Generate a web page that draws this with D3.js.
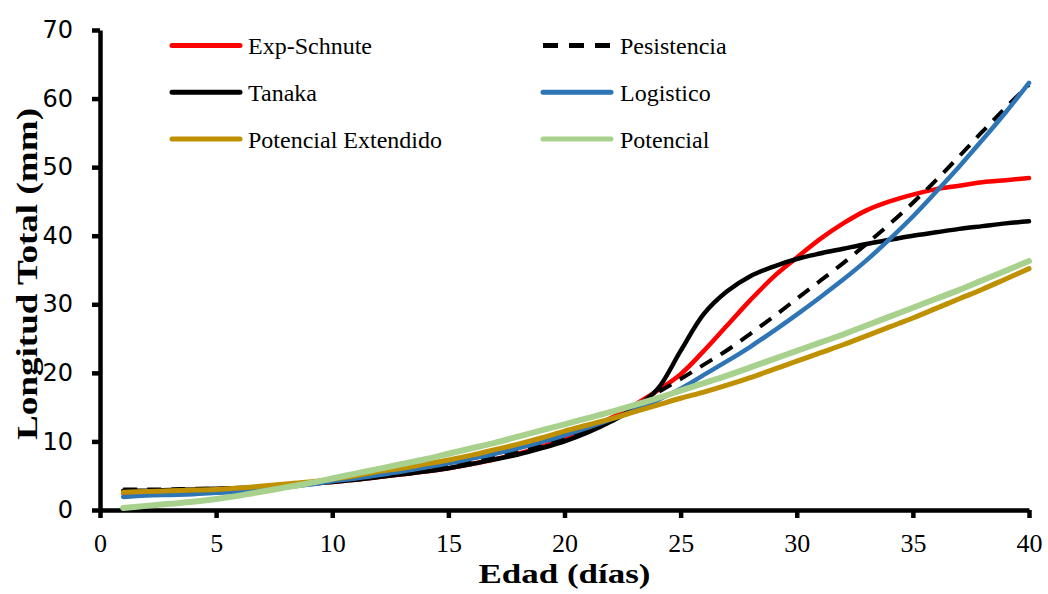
<!DOCTYPE html>
<html>
<head>
<meta charset="utf-8">
<script src="https://cdn.jsdelivr.net/npm/d3@7"></script>
<style>
  html, body { margin: 0; padding: 0; background: #fff; }
  svg { display: block; }
</style>
</head>
<body>
<svg id="chart" width="1048" height="594"></svg>
<script>
// Edad (días)
const days = [1, 2, 3, 4, 5, 6, 7, 8, 9, 10, 11, 12, 13, 14, 15, 16, 17, 18, 19, 20,
  21, 22, 23, 24, 25, 26, 27, 28, 29, 30, 31, 32, 33, 34, 35, 36, 37, 38, 39, 40];

// Longitud Total (mm), one value per day
const expSchnute = [2.5, 2.6, 2.7, 2.8, 3.0, 3.1, 3.3, 3.5, 3.8, 4.1, 4.4, 4.8, 5.2, 5.6, 6.1, 6.7, 7.4, 8.2, 9.2, 10.5,
  11.8, 13.4, 15.3, 17.4, 19.8, 23.2, 26.9, 30.6, 34.0, 36.8, 39.5, 41.8, 43.7, 45.0, 46.0, 46.8, 47.3, 47.8, 48.1, 48.4];
const pesistencia = [3.0, 3.0, 3.0, 3.1, 3.1, 3.2, 3.4, 3.6, 3.9, 4.2, 4.5, 4.9, 5.3, 5.8, 6.4, 7.0, 7.7, 8.5, 9.4, 10.5,
  11.7, 13.1, 14.8, 17.1, 19.1, 21.2, 23.3, 25.7, 28.2, 30.8, 33.4, 36.0, 38.8, 41.7, 44.8, 48.1, 51.6, 55.2, 58.7, 62.0];
const tanaka = [2.8, 2.8, 2.9, 3.0, 3.1, 3.2, 3.4, 3.6, 3.8, 4.1, 4.4, 4.8, 5.2, 5.6, 6.1, 6.7, 7.4, 8.1, 9.0, 10.0,
  11.3, 12.9, 14.8, 17.6, 23.2, 28.6, 31.9, 34.1, 35.5, 36.6, 37.4, 38.1, 38.8, 39.4, 40.0, 40.5, 41.0, 41.4, 41.8, 42.1];
const logistico = [1.9, 2.1, 2.2, 2.3, 2.5, 2.7, 3.0, 3.3, 3.7, 4.2, 4.6, 5.1, 5.6, 6.2, 6.8, 7.5, 8.2, 9.0, 9.9, 10.9,
  12.0, 13.2, 14.5, 16.0, 17.7, 19.7, 21.7, 23.8, 26.1, 28.5, 31.0, 33.6, 36.4, 39.5, 42.8, 46.4, 50.1, 54.0, 58.0, 62.3];
const potExtendido = [2.6, 2.7, 2.8, 2.9, 3.0, 3.2, 3.5, 3.8, 4.1, 4.5, 5.0, 5.6, 6.1, 6.7, 7.3, 8.0, 8.8, 9.6, 10.5, 11.5,
  12.4, 13.3, 14.3, 15.3, 16.3, 17.2, 18.2, 19.3, 20.5, 21.7, 22.9, 24.1, 25.4, 26.7, 28.0, 29.4, 30.8, 32.2, 33.7, 35.2];
const potencial = [0.3, 0.6, 0.9, 1.2, 1.6, 2.1, 2.7, 3.3, 3.9, 4.6, 5.3, 6.0, 6.7, 7.4, 8.2, 9.0, 9.8, 10.7, 11.6, 12.5,
  13.4, 14.3, 15.3, 16.3, 17.4, 18.5, 19.6, 20.8, 22.0, 23.2, 24.4, 25.6, 26.9, 28.2, 29.5, 30.8, 32.1, 33.5, 34.9, 36.3];

const xTicks = [0, 5, 10, 15, 20, 25, 30, 35, 40];
const yTicks = [0, 10, 20, 30, 40, 50, 60, 70];

// series in legend order (later ones draw on top)
const series = [
  { name: "Exp-Schnute", values: expSchnute, color: "#FF0000", width: 4.5, dash: null },
  { name: "Pesistencia", values: pesistencia, color: "#000000", width: 4, dash: "14,10" },
  { name: "Tanaka", values: tanaka, color: "#000000", width: 4.5, dash: null },
  { name: "Logistico", values: logistico, color: "#2E75B6", width: 4.5, dash: null },
  { name: "Potencial Extendido", values: potExtendido, color: "#BF9000", width: 5, dash: null },
  { name: "Potencial", values: potencial, color: "#A9D18E", width: 6, dash: null },
];

const svg = d3.select("#chart");

// scales
const x = d3.scaleLinear().domain([0, 40]).range([100, 1029]);
const y = d3.scaleLinear().domain([0, 70]).range([510, 30]);

// axes
const gY = svg.append("g")
  .attr("transform", "translate(" + x(0) + ",0)")
  .call(d3.axisLeft(y).tickValues(yTicks).tickSize(8).tickSizeOuter(0).tickPadding(19));

const gX = svg.append("g")
  .attr("transform", "translate(0," + y(0) + ")")
  .call(d3.axisBottom(x).tickValues(xTicks).tickSize(8).tickSizeOuter(0).tickPadding(16));

[gX, gY].forEach((g) => {
  g.select(".domain").attr("stroke", "#000").attr("stroke-width", 4.5);
  g.selectAll(".tick line").attr("stroke", "#000").attr("stroke-width", 4.5);
});

gY.selectAll(".tick text")
  .attr("fill", "#000")
  .style("font-family", "'DejaVu Sans', sans-serif")
  .style("font-size", "24px");

gX.selectAll(".tick text")
  .attr("fill", "#000")
  .style("font-family", "'Liberation Serif', serif")
  .style("font-size", "26px");

// axis titles
svg.append("text")
  .attr("x", 564.5)
  .attr("y", 583)
  .attr("text-anchor", "middle")
  .attr("textLength", 172)
  .attr("lengthAdjust", "spacingAndGlyphs")
  .style("font-family", "'Liberation Serif', serif")
  .style("font-weight", "bold")
  .style("font-size", "27px")
  .text("Edad (días)");

svg.append("text")
  .attr("transform", "translate(37,274) rotate(-90)")
  .attr("text-anchor", "middle")
  .attr("textLength", 332)
  .attr("lengthAdjust", "spacingAndGlyphs")
  .style("font-family", "'Liberation Serif', serif")
  .style("font-weight", "bold")
  .style("font-size", "30px")
  .text("Longitud Total (mm)");

// lines
const line = d3.line()
  .x((d, i) => x(days[i]))
  .y((d) => y(d))
  .curve(d3.curveCatmullRom.alpha(0.5));

svg.append("g")
  .selectAll("path")
  .data(series)
  .join("path")
  .attr("d", (d) => line(d.values))
  .attr("fill", "none")
  .attr("stroke", (d) => d.color)
  .attr("stroke-width", (d) => d.width)
  .attr("stroke-dasharray", (d) => d.dash)
  .attr("stroke-linejoin", "round")
  .attr("stroke-linecap", (d) => (d.dash ? "butt" : "round"));

// legend, two columns of three rows
const legendCols = [172, 543];
const legendRows = [45.5, 92.3, 139];

const gLegend = svg.append("g");
const item = gLegend.selectAll("g")
  .data(series)
  .join("g")
  .attr("transform", (d, i) => "translate(" + legendCols[i % 2] + "," + legendRows[Math.floor(i / 2)] + ")");

item.append("line")
  .attr("x1", 0)
  .attr("x2", (d) => (d.dash ? 67 : 68))
  .attr("y1", 0)
  .attr("y2", 0)
  .attr("stroke", (d) => d.color)
  .attr("stroke-width", 5)
  .attr("stroke-dasharray", (d) => (d.dash ? "15,11" : null))
  .attr("stroke-linecap", (d) => (d.dash ? "butt" : "round"));

item.append("text")
  .attr("x", (d, i) => (i % 2 ? 77 : 76))
  .attr("y", 8.5)
  .style("font-family", "'Liberation Serif', serif")
  .style("font-size", "24px")
  .text((d) => d.name);
</script>
</body>
</html>
